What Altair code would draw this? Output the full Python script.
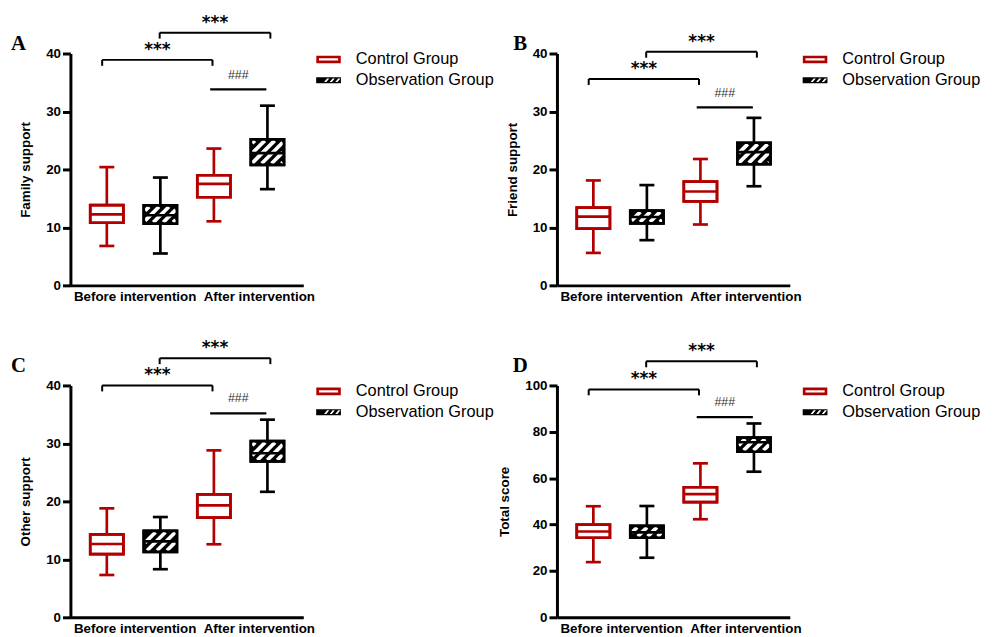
import math
import altair as alt
import pandas as pd

RED = "#b20000"
BLACK = "#000000"
W, H = 235, 234
XMAX = 4.35
BOX_HW = 0.31
CAP_HW = 0.14
LINE_W = 2.7
TICK_PX = 6
HATCH_PERIOD = 10
HATCH_W = 3.8

group_names = ["Control Group", "Observation Group"]
box_groups = ["Control Group", "Observation Group", "Control Group", "Observation Group"]
box_pos = [0.68, 1.68, 2.68, 3.68]
time_labels = ["Before intervention", "After intervention"]
time_label_pos = [1.2, 3.52]

letters = ["A", "B", "C", "D"]
y_titles = ["Family support", "Friend support", "Other support", "Total score"]
y_max = [40, 40, 40, 100]
y_ticks = [[0, 10, 20, 30, 40], [0, 10, 20, 30, 40], [0, 10, 20, 30, 40],
           [0, 20, 40, 60, 80, 100]]

# box statistics: [control-before, observation-before, control-after, observation-after]
family_hi = [20.4, 18.6, 23.6, 31.0]
family_q3 = [13.85, 13.8, 19.0, 25.2]
family_med = [12.25, 12.1, 17.5, 22.8]
family_q1 = [10.8, 10.65, 15.2, 20.8]
family_lo = [6.8, 5.5, 11.05, 16.6]

friend_hi = [18.1, 17.3, 21.8, 28.9]
friend_q3 = [13.4, 12.9, 17.9, 24.6]
friend_med = [11.85, 11.8, 16.2, 23.0]
friend_q1 = [9.8, 10.7, 14.5, 20.9]
friend_lo = [5.6, 7.8, 10.5, 17.1]

other_hi = [18.8, 17.3, 28.8, 34.1]
other_q3 = [14.3, 14.9, 21.2, 30.4]
other_med = [12.65, 13.1, 19.3, 28.3]
other_q1 = [10.9, 11.3, 17.2, 26.9]
other_lo = [7.3, 8.3, 12.6, 21.65]

total_hi = [47.9, 48.0, 66.4, 83.6]
total_q3 = [40.0, 39.4, 56.1, 77.5]
total_med = [37.0, 36.6, 53.1, 75.5]
total_q1 = [34.3, 34.3, 49.7, 71.4]
total_lo = [23.8, 25.7, 42.3, 62.8]

stats = [
    (family_lo, family_q1, family_med, family_q3, family_hi),
    (friend_lo, friend_q1, friend_med, friend_q3, friend_hi),
    (other_lo, other_q1, other_med, other_q3, other_hi),
    (total_lo, total_q1, total_med, total_q3, total_hi),
]

# significance brackets
sig_x1 = [0.593, 1.667]
sig_x2 = [2.654, 3.735]
sig_text = ["***", "***"]
sig_y = [[38.9, 43.6], [35.6, 40.3], [40.0, 44.7], [98.3, 110.4]]
hash_x1 = [2.611]
hash_x2 = [3.66]
hash_text = ["###"]
hash_y = [[33.8], [30.7], [35.2], [86.3]]

letter_dx = [-52.5, -37, -52.5, -37]
letter_dy = [-3.5, -3.5, -14, -14]

CTRL_SHAPE = "M-1,-0.227L1,-0.227L1,0.227L-1,0.227Z"


def obs_shape():
    p = "M-1,-0.24L1,-0.24L1,0.24L-1,0.24Z"
    hw, s, v = 0.09, 0.12, 0.15
    for cx in [-0.15, 0.3, 0.75]:
        p += (f"M{cx - hw + s:.3f},{-v}L{cx - hw - s:.3f},{v}"
              f"L{cx + hw - s:.3f},{v}L{cx + hw + s:.3f},{-v}Z")
    return p


def hatch_segments(box, sx, sy):
    rows = []
    inset = LINE_W / 2
    for _, r in box[box.group == group_names[1]].iterrows():
        px0 = r.bl * sx + inset
        px1 = r.br * sx - inset
        py0 = r.q1 * sy + inset
        py1 = r.q3 * sy - inset
        kmin = math.ceil((px0 - py1) / HATCH_PERIOD)
        kmax = math.floor((px1 - py0) / HATCH_PERIOD)
        for kk in range(kmin, kmax + 1):
            c = kk * HATCH_PERIOD
            xa = max(px0, py0 + c)
            xb = min(px1, py1 + c)
            if xb - xa > 0.5:
                rows.append({"hx": xa / sx, "hy": (xa - c) / sy,
                             "hx2": xb / sx, "hy2": (xb - c) / sy})
    return pd.DataFrame(rows)


def make_panel(k):
    ymax = y_max[k]
    sx = W / XMAX
    sy = H / ymax
    xs = alt.Scale(domain=[0, XMAX], nice=False, zero=False)
    ys = alt.Scale(domain=[0, ymax], nice=False, zero=False)
    lo, q1, med, q3, hi = stats[k]
    box = pd.DataFrame({"group": box_groups, "pos": box_pos, "lo": lo, "q1": q1,
                        "med": med, "q3": q3, "hi": hi})
    box["bl"] = box.pos - BOX_HW
    box["br"] = box.pos + BOX_HW
    box["cl"] = box.pos - CAP_HW
    box["cr"] = box.pos + CAP_HW

    fill_enc = alt.Fill("group:N", scale=alt.Scale(domain=group_names, range=["white", BLACK]), legend=None)
    stroke_enc = alt.Stroke("group:N", scale=alt.Scale(domain=group_names, range=[RED, BLACK]), legend=None)

    label_expr = f"datum.value < 2 ? '{time_labels[0]}' : '{time_labels[1]}'"
    x_axis = alt.Axis(values=time_label_pos, labelExpr=label_expr, ticks=False, tickSize=0,
                      title=None, labelPadding=4, labelAngle=0)
    y_axis = alt.Axis(values=y_ticks[k], title=y_titles[k], tickSize=8, labelPadding=2,
                      titlePadding=13)

    def X(f):
        return alt.X(f, type="quantitative", scale=xs, axis=x_axis)

    def Y(f):
        return alt.Y(f, type="quantitative", scale=ys, axis=y_axis)

    base = alt.Chart(box)
    whisk = base.mark_rule(strokeWidth=LINE_W).encode(
        x=X("pos"), y=Y("lo"), y2="hi", stroke=stroke_enc)
    cap_hi = base.mark_rule(strokeWidth=LINE_W).encode(
        x=X("cl"), x2="cr", y=Y("hi"), stroke=stroke_enc)
    cap_lo = base.mark_rule(strokeWidth=LINE_W).encode(
        x=X("cl"), x2="cr", y=Y("lo"), stroke=stroke_enc)
    boxes = base.mark_rect(strokeWidth=LINE_W).encode(
        x=X("bl"), x2="br", y=Y("q1"), y2="q3", fill=fill_enc, stroke=stroke_enc)
    hatch = alt.Chart(hatch_segments(box, sx, sy)).mark_rule(
        color="white", strokeWidth=HATCH_W, strokeCap="butt").encode(
        x=X("hx"), y=Y("hy"), x2="hx2", y2="hy2")
    outline = base.mark_rect(filled=False, strokeWidth=LINE_W).encode(
        x=X("bl"), x2="br", y=Y("q1"), y2="q3", stroke=stroke_enc)
    medl = base.mark_rule(strokeWidth=LINE_W).encode(
        x=X("bl"), x2="br", y=Y("med"), stroke=stroke_enc)

    sig = pd.DataFrame({"x1": sig_x1, "x2": sig_x2, "y": sig_y[k], "label": sig_text})
    sig["yt"] = sig.y - TICK_PX / sy
    sig["xm"] = (sig.x1 + sig.x2) / 2
    sbase = alt.Chart(sig)
    s_h = sbase.mark_rule(color=BLACK, strokeWidth=2).encode(x=X("x1"), x2="x2", y=Y("y"))
    s_l = sbase.mark_rule(color=BLACK, strokeWidth=2).encode(x=X("x1"), y=Y("y"), y2="yt")
    s_r = sbase.mark_rule(color=BLACK, strokeWidth=2).encode(x=X("x2"), y=Y("y"), y2="yt")
    s_t = sbase.mark_text(font="DejaVu Sans", fontWeight="bold", fontSize=17, color=BLACK,
                          baseline="alphabetic", dy=-5).encode(x=X("xm"), y=Y("y"), text="label")

    hs = pd.DataFrame({"x1": hash_x1, "x2": hash_x2, "y": hash_y[k], "label": hash_text})
    hs["xm"] = (hs.x1 + hs.x2) / 2
    hbase = alt.Chart(hs)
    h_l = hbase.mark_rule(color=BLACK, strokeWidth=2.3).encode(x=X("x1"), x2="x2", y=Y("y"))
    h_t = hbase.mark_text(font="Liberation Sans", fontSize=12.5, color="#333333",
                          baseline="alphabetic", dy=-11).encode(x=X("xm"), y=Y("y"), text="label")

    leg = pd.DataFrame({"label": group_names})
    lbase = alt.Chart(leg)
    l_c = lbase.transform_filter(alt.datum.label == group_names[0]).mark_point(
        shape=CTRL_SHAPE, filled=False, size=484, stroke=RED, strokeWidth=LINE_W, opacity=1).encode(
        x=alt.value(260.5), y=alt.value(6))
    l_o = lbase.transform_filter(alt.datum.label == group_names[1]).mark_point(
        shape=obs_shape(), filled=True, size=625, color=BLACK, opacity=1).encode(
        x=alt.value(260.5), y=alt.value(27))
    l_tc = lbase.transform_filter(alt.datum.label == group_names[0]).mark_text(
        font="Liberation Sans", fontSize=16.5, color=BLACK, align="left", baseline="middle").encode(
        x=alt.value(288), y=alt.value(6), text="label")
    l_to = lbase.transform_filter(alt.datum.label == group_names[1]).mark_text(
        font="Liberation Sans", fontSize=16.5, color=BLACK, align="left", baseline="middle").encode(
        x=alt.value(288), y=alt.value(27), text="label")

    let = alt.Chart(pd.DataFrame({"t": [letters[k]]})).mark_text(
        font="Liberation Serif", fontWeight="bold", fontSize=21, color=BLACK,
        align="center", baseline="alphabetic").encode(
        x=alt.value(letter_dx[k]), y=alt.value(letter_dy[k]), text="t")

    return alt.layer(whisk, cap_hi, cap_lo, boxes, hatch, outline, medl,
                     s_h, s_l, s_r, s_t, h_l, h_t, l_c, l_o, l_tc, l_to, let).properties(
        width=W, height=H)


panels = [make_panel(k) for k in range(4)]

chart = alt.concat(*panels, columns=2, spacing={"row": 101, "column": 256},
                   bounds="flush").properties(
    padding={"left": 2, "top": 2, "right": 5, "bottom": 5}
).configure_view(stroke=None).configure_axis(
    grid=False, domainColor=BLACK, domainWidth=3, tickColor=BLACK, tickWidth=3,
    labelFont="Liberation Sans", labelFontWeight="bold", labelFontSize=13.5, labelColor=BLACK,
    titleFont="Liberation Sans", titleFontWeight="bold", titleFontSize=13.5, titleColor=BLACK,
)

chart.save("out.html", embed_options={"renderer": "svg", "actions": False})
